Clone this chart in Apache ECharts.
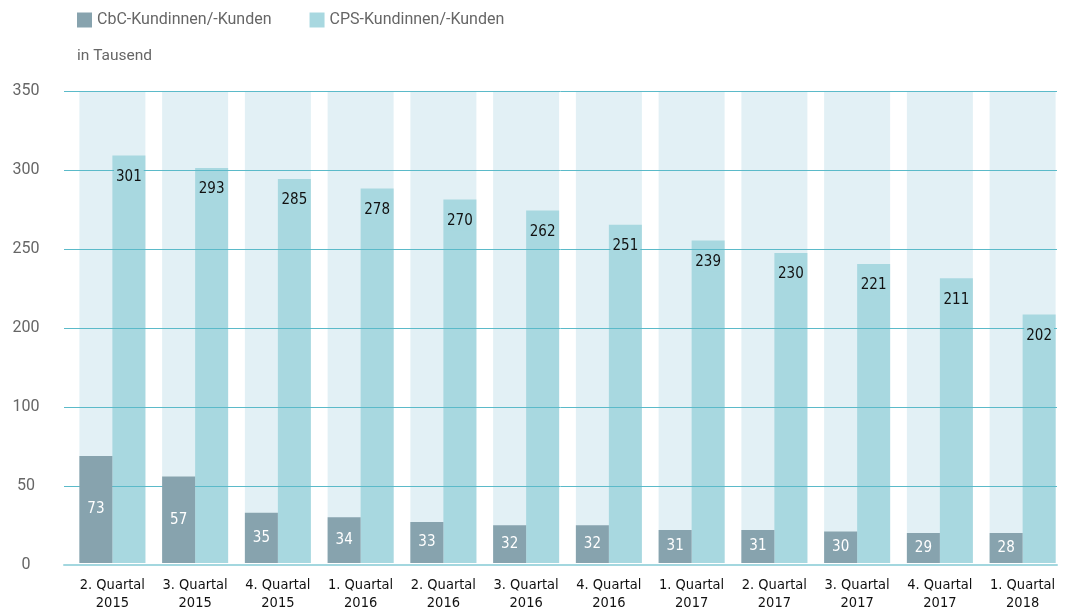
<!DOCTYPE html>
<html>
<head>
<meta charset="utf-8">
<script src="https://cdn.jsdelivr.net/npm/echarts@6/dist/echarts.min.js"></script>
<style>
  html, body { margin: 0; padding: 0; background: #fff; }
  #chart { width: 1065px; height: 612px; }
</style>
</head>
<body>
<div id="chart"></div>
<script>
// Kategorien (Quartale)
var categories = ['2. Quartal\n2015', '3. Quartal\n2015', '4. Quartal\n2015', '1. Quartal\n2016',
    '2. Quartal\n2016', '3. Quartal\n2016', '4. Quartal\n2016', '1. Quartal\n2017',
    '2. Quartal\n2017', '3. Quartal\n2017', '4. Quartal\n2017', '1. Quartal\n2018'];

// printed values (in Tausend)
var cbcValues = [73, 57, 35, 34, 33, 32, 32, 31, 31, 30, 29, 28];
var cpsValues = [301, 293, 285, 278, 270, 262, 251, 239, 230, 221, 211, 202];

// bar heights as drawn in the original, in axis steps (gridlines every 50)
var cbcHeights = [68, 55, 32, 29, 26, 24, 24, 21, 21, 20, 19, 19];
var cpsHeights = [259, 251, 244, 238, 231, 224, 215, 205, 197, 190, 181, 158];

// tick labels of the original axis (note: 150 is skipped there)
var yTickLabels = ['0', '50', '100', '200', '250', '300', '350'];
var backgroundHeights = [300, 300, 300, 300, 300, 300, 300, 300, 300, 300, 300, 300];

var chart = echarts.init(document.getElementById('chart'));

var narrow = '"Liberation Sans Narrow", "DejaVu Sans Condensed", sans-serif';
var cpsColor = '#a8d8e0';

var option = {
    animation: false,
    title: {
        text: 'in Tausend',
        left: 77,
        top: 48,
        padding: 0,
        textStyle: { fontFamily: 'Roboto', fontSize: 15.5, fontWeight: 'normal', color: '#666' }
    },
    legend: {
        data: ['CbC-Kundinnen/-Kunden', 'CPS-Kundinnen/-Kunden'],
        left: 77,
        top: 12,
        padding: 0,
        itemWidth: 15,
        itemHeight: 15,
        itemGap: 38,
        icon: 'rect',
        textStyle: { fontFamily: 'Roboto', fontSize: 16, color: '#666' }
    },
    grid: [
        { left: 64, right: 8, top: 91, bottom: 47 },   // gridlines + y labels
        { left: 71, right: 1, top: 91, bottom: 47 }    // bars
    ],
    xAxis: [
        {
            gridIndex: 0,
            type: 'category',
            data: categories,
            z: 3,
            axisTick: { show: false },
            axisLabel: { show: false },
            axisLine: { lineStyle: { color: '#a3d7df', width: 2 } }
        },
        {
            gridIndex: 1,
            type: 'category',
            data: categories,
            axisTick: { show: false },
            axisLine: { show: false },
            axisLabel: {
                margin: 13,
                fontFamily: narrow,
                fontSize: 14.5,
                lineHeight: 18,
                color: '#111',
                interval: 0
            }
        },
        { gridIndex: 1, type: 'category', data: categories, show: false },
        { gridIndex: 1, type: 'category', data: categories, show: false }
    ],
    yAxis: [
        {
            gridIndex: 0,
            type: 'value',
            min: 0,
            max: 300,
            interval: 50,
            z: 3,
            axisLine: { show: false },
            axisTick: { show: false },
            splitLine: { lineStyle: { color: '#5bbac9', width: 1 } },
            axisLabel: {
                margin: 38,
                align: 'center',
                fontFamily: 'Roboto',
                fontSize: 16,
                color: '#666',
                formatter: function (v) { return yTickLabels[Math.round(v / 50)]; }
            }
        },
        {
            gridIndex: 1,
            type: 'value',
            min: 0,
            max: 300,
            interval: 50,
            show: false,
            splitLine: { show: false }
        }
    ],
    series: [
        {
            name: 'bg',
            type: 'bar',
            xAxisIndex: 2,
            yAxisIndex: 1,
            data: backgroundHeights,
            barWidth: 66,
            silent: true,
            z: 1,
            itemStyle: { color: '#e2f0f5' }
        },
        {
            name: 'CbC-Kundinnen/-Kunden',
            type: 'bar',
            xAxisIndex: 1,
            yAxisIndex: 1,
            z: 4,
            barWidth: 33,
            barGap: '0%',
            itemStyle: { color: '#87a3ae' },
            data: cbcHeights,
            label: {
                show: true,
                position: 'inside',
                fontFamily: narrow,
                fontSize: 15,
                color: '#fff',
                formatter: function (p) { return cbcValues[p.dataIndex]; }
            }
        },
        {
            name: 'CPS-Kundinnen/-Kunden',
            type: 'bar',
            xAxisIndex: 1,
            yAxisIndex: 1,
            z: 2,
            barWidth: 33,
            barGap: '0%',
            itemStyle: { color: cpsColor },
            data: cpsHeights
        },
        // label layer for the CPS bars, drawn above the gridlines
        {
            name: 'slot',
            type: 'bar',
            xAxisIndex: 3,
            yAxisIndex: 1,
            barWidth: 33,
            barGap: '0%',
            silent: true,
            itemStyle: { color: 'rgba(0,0,0,0)' },
            data: cbcHeights
        },
        {
            name: 'cpsLabels',
            type: 'bar',
            xAxisIndex: 3,
            yAxisIndex: 1,
            z: 5,
            barWidth: 33,
            barGap: '0%',
            silent: true,
            itemStyle: { color: 'rgba(0,0,0,0)' },
            data: cpsHeights,
            label: {
                show: true,
                position: 'insideTop',
                distance: 12,
                fontFamily: narrow,
                fontSize: 15,
                color: '#111',
                backgroundColor: cpsColor,
                padding: [2, 2],
                formatter: function (p) { return cpsValues[p.dataIndex]; }
            }
        }
    ]
};

chart.setOption(option);
</script>
</body>
</html>
